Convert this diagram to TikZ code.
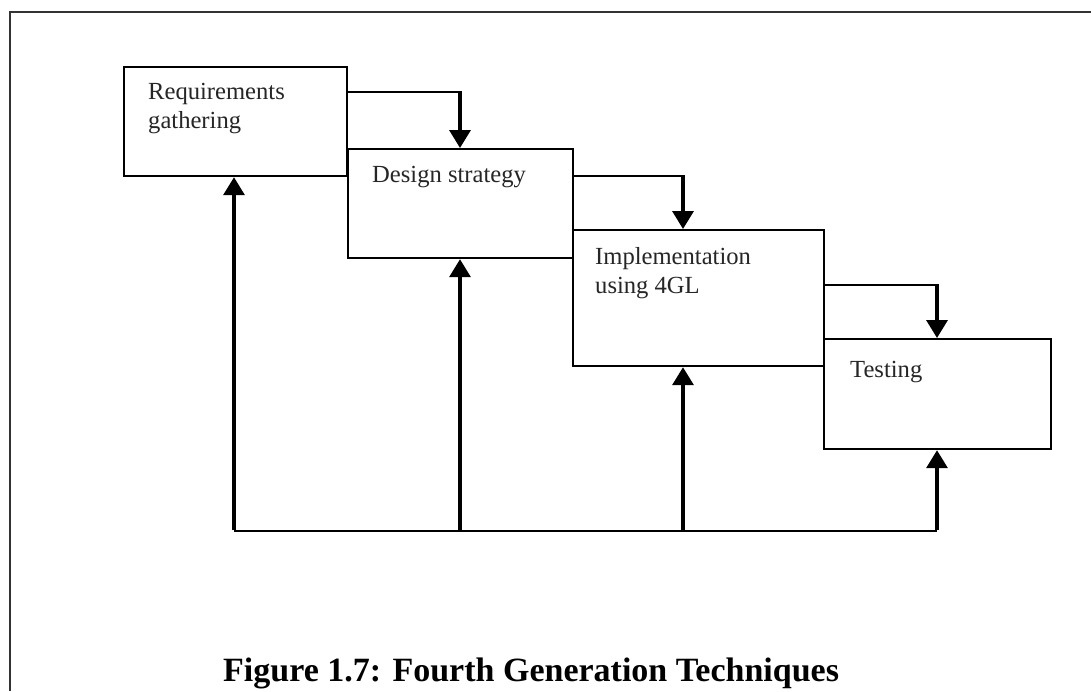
\documentclass[tikz,border=0pt]{standalone}
\usepackage{fontspec}
\setmainfont{Liberation Serif}
\usetikzlibrary{arrows.meta,calc}

\tikzset{
  stagebox/.style={draw=black, line width=2.2pt, fill=white, inner sep=0pt,
    anchor=north west, minimum width=#1},
  stagetext/.style={anchor=base west, inner sep=0pt, align=left,
    font=\fontsize{24.6}{29}\selectfont, text=black!85},
  thinline/.style={draw=black, line width=2.2pt},
  flow/.style={draw=black, line width=3.4pt,
    -{Triangle[length=18pt,width=21pt]}},
  frameline/.style={draw=black!80, line width=2pt},
}

\begin{document}
\begin{tikzpicture}[x=1pt,y=-1pt]
  \useasboundingbox (0,0) rectangle (1091,691);

  % page frame (top and left edges)
  \draw[frameline] (10,691) -- (10,12) -- (1091,12);

  % stage boxes
  \node[stagebox=223pt, minimum height=109pt] (req)  at (123,66)  {};
  \node[stagebox=225pt, minimum height=109pt] (des)  at (347,148) {};
  \node[stagebox=251pt, minimum height=136pt] (impl) at (572,229) {};
  \node[stagebox=227pt, minimum height=110pt] (test) at (823,338) {};

  % stage labels (base anchor sits on the last line of a label)
  \node[stagetext] (treq)  at (148,128) {Requirements\\gathering};
  \node[stagetext] (tdes)  at (372,182) {Design strategy};
  \node[stagetext] (timpl) at (595,293) {Implementation\\using 4GL};
  \node[stagetext] (ttest) at (850,377) {Testing};

  % forward flow between stages
  \coordinate (k1) at (460,92);
  \coordinate (k2) at (683,176);
  \coordinate (k3) at (937,285);
  \draw[thinline] (k1 -| req.east) -- (k1);
  \draw[flow] ([yshift=1pt]k1) -- (k1 |- des.north);
  \draw[thinline] (k2 -| des.east) -- (k2);
  \draw[flow] ([yshift=1pt]k2) -- (k2 |- impl.north);
  \draw[thinline] (k3 -| impl.east) -- (k3);
  \draw[flow] ([yshift=1pt]k3) -- (k3 |- test.north);

  % feedback to every stage
  \coordinate (f1) at (234,531);
  \coordinate (f2) at (460,531);
  \coordinate (f3) at (683,531);
  \coordinate (f4) at (937,531);
  \draw[thinline] (f1) -- (f4);
  \draw[flow] ([yshift=1pt]f1) -- (f1 |- req.south);
  \draw[flow] ([yshift=1pt]f2) -- (f2 |- des.south);
  \draw[flow] ([yshift=1pt]f3) -- (f3 |- impl.south);
  \draw[flow] ([yshift=1pt]f4) -- (f4 |- test.south);

  % caption
  \node[anchor=base west, inner sep=0pt, font=\fontsize{34}{40}\selectfont\bfseries]
    (cap) at (223,681) {Figure 1.7: Fourth Generation Techniques};
\end{tikzpicture}
\end{document}
